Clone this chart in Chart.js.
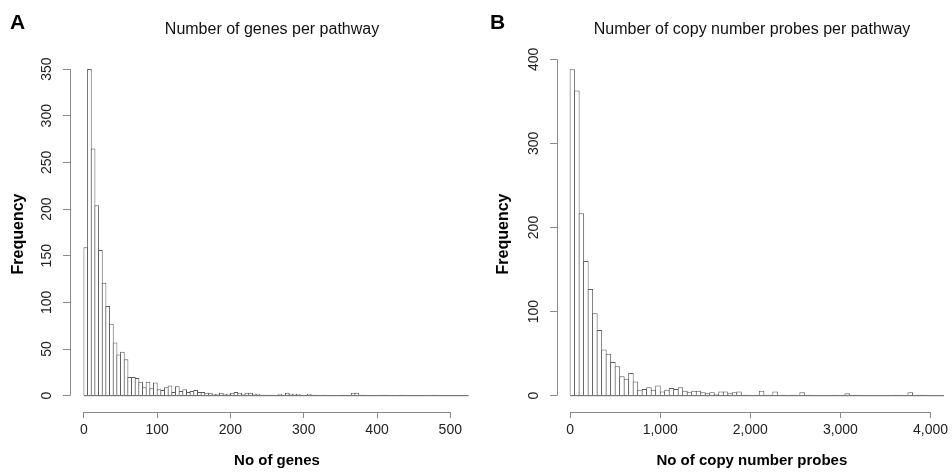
<!DOCTYPE html>
<html>
<head>
<meta charset="utf-8">
<script src="https://cdn.jsdelivr.net/npm/chart.js@4.4.1/dist/chart.umd.min.js"></script>
<style>
  body { margin: 0; background: #fff; font-family: "Liberation Sans", Arial, sans-serif; }
  #page { position: relative; width: 952px; height: 472px; overflow: hidden; }
  canvas { position: absolute; top: 0; }
  #histA { left: 0; }
  #histB { left: 490px; }
  .tag { position: absolute; top: 10px; font-size: 21px; font-weight: bold; color: #000; }
</style>
</head>
<body>
<div id="page">
  <canvas id="histA" width="490" height="472"></canvas>
  <canvas id="histB" width="462" height="472"></canvas>
  <div class="tag" style="left:10px">A</div>
  <div class="tag" style="left:490px">B</div>
</div>
<script>
// histogram A: genes per pathway, bins of 5
const geneBin = 5;
const geneCounts = [
  159, 350, 265, 204, 156, 121, 96, 77, 57, 44,
  47, 39, 20, 20, 19, 15, 9, 15, 8, 14,
  7, 6, 9, 11, 4, 10, 5, 7, 4, 5,
  6, 4, 4, 3, 3, 2, 2, 3, 2, 2,
  3, 4, 3, 2, 3, 3, 2, 2, 1, 1,
  1, 1, 0, 2, 0, 3, 2, 2, 2, 0,
  0, 2, 1, 1, 0, 1, 0, 0, 0, 0,
  1, 1, 0, 3, 3, 1, 1, 0, 0, 0,
  0, 1, 1, 0, 0, 0, 1, 0, 0, 0,
  0, 0, 0, 0, 0, 1, 0, 0, 0, 0,
  0, 0, 0, 0, 0
];
const geneXTicks = [0, 100, 200, 300, 400, 500];
const geneYTicks = [0, 50, 100, 150, 200, 250, 300, 350];

// histogram B: copy number probes per pathway, bins of 50
const probeBin = 50;
const probeCounts = [
  388, 363, 217, 160, 127, 98, 78, 55, 50, 40,
  35, 23, 20, 27, 17, 7, 8, 10, 7, 12,
  5, 7, 9, 8, 10, 6, 4, 6, 6, 4,
  3, 4, 2, 5, 5, 3, 4, 5, 1, 1,
  0, 1, 6, 1, 1, 5, 0, 1, 0, 1,
  0, 4, 1, 1, 0, 0, 0, 0, 1, 0,
  0, 3, 1, 1, 0, 0, 0, 0, 0, 0,
  0, 0, 1, 0, 0, 4, 0, 1, 1, 0,
  0, 0, 0
];
const probeXTicks = [0, 1000, 2000, 3000, 4000];
const probeYTicks = [0, 100, 200, 300, 400];

const FONT = '"Liberation Sans", Arial, sans-serif';
const axisGray = '#8a8a8a';
const barEdge = '#5c5c5c';

// R style axes: line only from first to last tick, plus the main title
const rAxes = {
  id: 'rAxes',
  afterDraw(chart, args, o) {
    const ctx = chart.ctx, a = chart.chartArea;
    const xs = chart.scales.x, ys = chart.scales.y;
    ctx.save();
    ctx.strokeStyle = axisGray;
    ctx.lineWidth = 1;
    ctx.beginPath();
    const xl = Math.round(a.left) + 0.5;
    ctx.moveTo(xl, ys.getPixelForValue(o.yFirst));
    ctx.lineTo(xl, ys.getPixelForValue(o.yLast));
    const yb = Math.round(a.bottom) + 0.5;
    ctx.moveTo(xs.getPixelForValue(o.xFirst), yb);
    ctx.lineTo(xs.getPixelForValue(o.xLast), yb);
    ctx.stroke();
    ctx.fillStyle = '#111';
    ctx.font = '16px ' + FONT;
    ctx.textAlign = 'center';
    ctx.textBaseline = 'middle';
    ctx.fillText(o.title, o.titleX, 30);
    ctx.restore();
  }
};

function makeHist(id, cfg) {
  const bars = cfg.counts.map((c, i) => ({ x: (i + 0.5) * cfg.bin, y: c }));
  const base = [{ x: 0, y: 0 }, { x: cfg.counts.length * cfg.bin, y: 0 }];
  return new Chart(document.getElementById(id), {
    type: 'bar',
    data: {
      datasets: [
        { type: 'line', data: base, borderColor: barEdge, borderWidth: 1, pointRadius: 0 },
        {
          data: bars,
          backgroundColor: '#ffffff',
          borderColor: barEdge,
          borderWidth: 1,
          inflateAmount: 0,
          // bars overlap by one pixel so neighbours share an edge
          barPercentage: cfg.barPct,
          categoryPercentage: 1
        }
      ]
    },
    options: {
      responsive: false,
      animation: false,
      layout: { padding: { top: 56, right: cfg.padRight, left: 0, bottom: 0 } },
      plugins: {
        legend: { display: false },
        tooltip: { enabled: false },
        rAxes: { title: cfg.title, titleX: cfg.titleX,
                 xFirst: cfg.xTicks[0], xLast: cfg.xTicks[cfg.xTicks.length - 1],
                 yFirst: cfg.yTicks[0], yLast: cfg.yTicks[cfg.yTicks.length - 1] }
      },
      scales: {
        x: {
          type: 'linear', offset: false, min: cfg.xMin, max: cfg.xMax,
          afterBuildTicks: s => { s.ticks = cfg.xTicks.map(v => ({ value: v })); },
          afterFit: s => { s.height = 60; },
          grid: { offset: false, drawOnChartArea: false, drawTicks: true, tickLength: 6, color: axisGray },
          border: { display: false },
          ticks: { font: { family: FONT, size: 14 }, color: '#222', padding: 4, maxRotation: 0, autoSkip: false,
                   callback: v => v.toLocaleString('en-US') },
          title: { display: true, text: cfg.xTitle, color: '#000', padding: 2,
                   font: { family: FONT, size: 15, weight: 'bold' } }
        },
        y: {
          min: cfg.yMin, max: cfg.yMax,
          afterBuildTicks: s => { s.ticks = cfg.yTicks.map(v => ({ value: v })); },
          afterFit: s => { s.width = cfg.yWidth; },
          grid: { offset: false, drawOnChartArea: false, drawTicks: true, tickLength: 7, color: axisGray },
          border: { display: false },
          ticks: { font: { family: FONT, size: 14 }, color: '#222', padding: 4, autoSkip: false,
                   minRotation: 90, maxRotation: 90, crossAlign: 'center', callback: v => String(v) },
          title: { display: true, text: 'Frequency', color: '#000', padding: cfg.yTitlePad,
                   font: { family: FONT, size: 16, weight: 'bold' } }
        }
      }
    },
    plugins: [rAxes]
  });
}

makeHist('histA', {
  counts: geneCounts, bin: geneBin, barPct: 1.27,
  xTicks: geneXTicks, yTicks: geneYTicks,
  xMin: -19, xMax: 546, yMin: -17.5, yMax: 364,
  padRight: 6, yWidth: 70, yTitlePad: 9,
  title: 'Number of genes per pathway', titleX: 272,
  xTitle: 'No of genes'
});

makeHist('histB', {
  counts: probeCounts, bin: probeBin, barPct: 1.22,
  xTicks: probeXTicks, yTicks: probeYTicks,
  xMin: -145.7, xMax: 4180.7, yMin: -19.4, yMax: 403.9,
  padRight: 0, yWidth: 67, yTitlePad: 4,
  title: 'Number of copy number probes per pathway', titleX: 262,
  xTitle: 'No of copy number probes'
});
</script>
</body>
</html>
